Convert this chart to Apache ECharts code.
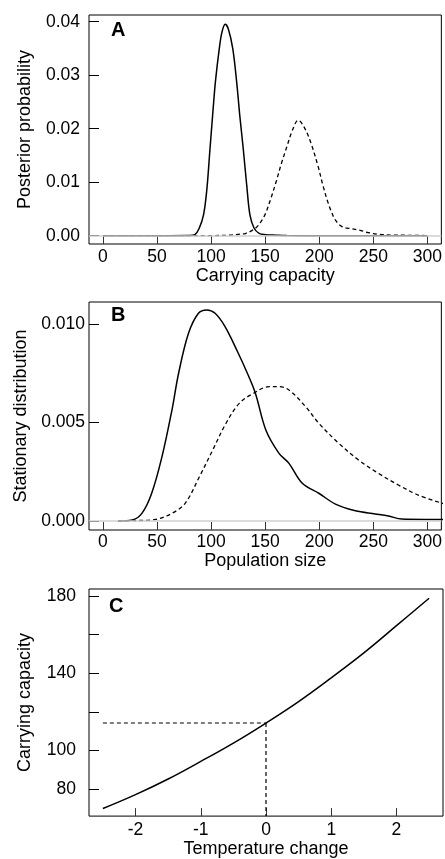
<!DOCTYPE html>
<html><head><meta charset="utf-8">
<script src="https://cdn.jsdelivr.net/npm/echarts@6/dist/echarts.min.js"></script>
<style>html,body{margin:0;padding:0;background:#fff}#c{width:445px;height:859px}</style>
</head><body><div id="c"></div>
<script>
// ---- Panel A: posterior probability of carrying capacity
const capX_solid = [0,60,80,85,89,93,96,99,102,104,107.6,110,113,116,120,123.6,126.5,129.7,133,135.9,139.8,144.4,150,160,170,200,300];
const capY_solid = [0,0,0.00002,0.0002,0.0014,0.0039,0.0085,0.0163,0.024,0.0288,0.035,0.038,0.0395,0.0386,0.035,0.0288,0.0225,0.0163,0.0093,0.0039,0.0014,0.00045,0.0002,0.0001,0.00003,0,0];
const capX_dashed = [0,60,100,116.8,125,132.2,141,146,150,155,160,165,170,175,180.6,186,192,199,203,207.3,211,215,221,228,236.4,245,254.8,270,280,300];
const capY_dashed = [0,0,0.00002,0.0001,0.00025,0.00045,0.0014,0.0026,0.0040,0.0068,0.0100,0.0135,0.0166,0.0196,0.0216,0.0203,0.0175,0.0129,0.0097,0.0067,0.0046,0.0029,0.0017,0.00135,0.00107,0.0006,0.00026,0.0001,0.00008,0.00002];
const ticksA_x = [0,50,100,150,200,250,300];
const ticksA_y = [0,0.01,0.02,0.03,0.04];

// ---- Panel B: stationary distribution of population size
const popX_solid = [14,27,36,45,54.6,63.8,69.9,79.1,88.3,96,103.7,112.9,125.1,132.2,140.8,150.6,162.8,172,184.3,199.6,215,233.4,251.8,264,276.3,297.8,315];
const popY_solid = [0,0.00005,0.00039,0.0014,0.00327,0.00564,0.0075,0.00954,0.01056,0.01073,0.01056,0.00988,0.00853,0.00768,0.00652,0.00463,0.00344,0.00293,0.00192,0.00141,0.00086,0.00052,0.00036,0.00025,0.0001,0.00008,0.00008];
const popX_dashed = [14,30,48.5,63.8,76,89.2,101.5,113.8,126,138.3,153.6,162.8,172,187.4,199.6,218,236.4,254.8,273.2,291.6,315];
const popY_dashed = [0,0.00002,0.00008,0.00039,0.0009,0.00225,0.00361,0.00497,0.00598,0.00646,0.00683,0.00683,0.00666,0.00581,0.00497,0.00395,0.0031,0.00242,0.00183,0.00132,0.00088];
const ticksB_x = [0,50,100,150,200,250,300];
const ticksB_y = [0,0.005,0.01];

// ---- Panel C: carrying capacity vs temperature change
const tempX = [-2.5,-2,-1.5,-1,-0.5,0,0.5,1,1.5,2,2.5];
const capK = [69.9,77.1,85.2,94.3,103.8,114.2,125.3,137.6,150.5,164.6,178.8];
const ticksC_x = [-2,-1,0,1,2];
const ticksC_y = [80,100,120,140,160,180];
const labelsC_y = [80,100,140,180];

const FONT = 'Liberation Sans, Arial, Helvetica, sans-serif';
const FS = 17.5;
const FSN = 18;
const pairs = (xs, ys) => xs.map((x, i) => [x, ys[i]]);

const chart = echarts.init(document.getElementById('c'), null, {renderer: 'canvas'});

const grids = [
  {left: 89, top: 15, width: 354, height: 229},
  {left: 89, top: 302, width: 354, height: 228},
  {left: 89, top: 589, width: 354, height: 229}
].map(g => Object.assign(g, {show: true, borderColor: '#000', borderWidth: 1, backgroundColor: 'transparent', containLabel: false}));

function xAxis(idx, min, max, ticks, name, margin, gap, fmt) {
  return {
    type: 'value', gridIndex: idx, min, max, name, position: 'bottom',
    nameLocation: 'middle', nameGap: gap,
    nameTextStyle: {fontFamily: FONT, fontSize: FSN, color: '#000'},
    axisLine: {show: false, onZero: false},
    axisTick: {show: true, inside: true, length: 8, customValues: ticks, lineStyle: {color: '#333', width: 1}},
    axisLabel: {show: true, customValues: ticks, margin, fontFamily: FONT, fontSize: FS, color: '#000', formatter: fmt || (v => String(v))},
    splitLine: {show: false}
  };
}
function yAxis(idx, min, max, ticks, labels, name, margin, gap, fmt) {
  return {
    type: 'value', gridIndex: idx, min, max, name, position: 'left',
    nameLocation: 'middle', nameGap: gap,
    nameTextStyle: {fontFamily: FONT, fontSize: FSN, color: '#000'},
    axisLine: {show: false, onZero: false},
    axisTick: {show: true, inside: true, length: 10, customValues: ticks, lineStyle: {color: '#000', width: 1}},
    axisLabel: {show: true, customValues: labels, margin, fontFamily: FONT, fontSize: FS, color: '#000', formatter: fmt},
    splitLine: {show: false}
  };
}

const solidStyle = {color: '#000', width: 1.5, type: 'solid'};
const dashStyle = {color: '#000', width: 1.3, type: [4, 3]};
const zeroLine = {
  silent: true, symbol: 'none', label: {show: false},
  lineStyle: {color: '#cfcfcf', width: 1.5, type: 'solid'},
  data: [{yAxis: 0}], animation: false
};

const refK = capK[tempX.indexOf(0)];
const yMinC = 66.0;

const option = {
  animation: false,
  backgroundColor: '#fff',
  grid: grids,
  xAxis: [
    xAxis(0, -12.9, 312.9, ticksA_x, 'Carrying capacity', 4, 20),
    xAxis(1, -12.9, 312.9, ticksB_x, 'Population size', 3, 21),
    xAxis(2, -2.713, 2.713, ticksC_x, 'Temperature change', 5, 21)
  ],
  yAxis: [
    yAxis(0, -0.00155, 0.04125, ticksA_y, ticksA_y, 'Posterior probability', 9, 55, v => v.toFixed(2)),
    yAxis(1, -0.000458, 0.011134, ticksB_y, ticksB_y, 'Stationary distribution', 4, 55, v => v.toFixed(3)),
    yAxis(2, yMinC, 183.6, ticksC_y, labelsC_y, 'Carrying capacity', 13, 55, v => String(v))
  ],
  series: [
    {type: 'line', xAxisIndex: 0, yAxisIndex: 0, data: [], markLine: zeroLine, z: 1},
    {type: 'line', xAxisIndex: 0, yAxisIndex: 0, data: pairs(capX_dashed, capY_dashed), showSymbol: false, smooth: 0.35, lineStyle: dashStyle, z: 3},
    {type: 'line', xAxisIndex: 0, yAxisIndex: 0, data: pairs(capX_solid, capY_solid), showSymbol: false, smooth: 0.35, lineStyle: solidStyle, z: 4},
    {type: 'line', xAxisIndex: 1, yAxisIndex: 1, data: [], markLine: zeroLine, z: 1},
    {type: 'line', xAxisIndex: 1, yAxisIndex: 1, data: pairs(popX_dashed, popY_dashed), showSymbol: false, smooth: 0.35, lineStyle: dashStyle, z: 3},
    {type: 'line', xAxisIndex: 1, yAxisIndex: 1, data: pairs(popX_solid, popY_solid), showSymbol: false, smooth: 0.35, lineStyle: solidStyle, z: 4},
    {type: 'line', xAxisIndex: 2, yAxisIndex: 2, data: [[tempX[0], refK], [0, refK]], showSymbol: false, lineStyle: {color: '#000', width: 1.2, type: [4, 3]}, z: 3},
    {type: 'line', xAxisIndex: 2, yAxisIndex: 2, data: [[0, refK], [0, yMinC]], showSymbol: false, lineStyle: {color: '#000', width: 1.2, type: [4, 3]}, z: 3},
    {type: 'line', xAxisIndex: 2, yAxisIndex: 2, data: pairs(tempX, capK), showSymbol: false, smooth: 0.4, lineStyle: solidStyle, z: 4}
  ],
  graphic: [
    {type: 'text', left: 111, top: 20, style: {text: 'A', font: 'bold 20px ' + FONT, fill: '#000'}},
    {type: 'text', left: 111, top: 305, style: {text: 'B', font: 'bold 20px ' + FONT, fill: '#000'}},
    {type: 'text', left: 109, top: 596, style: {text: 'C', font: 'bold 20px ' + FONT, fill: '#000'}}
  ]
};
chart.setOption(option);
</script></body></html>
